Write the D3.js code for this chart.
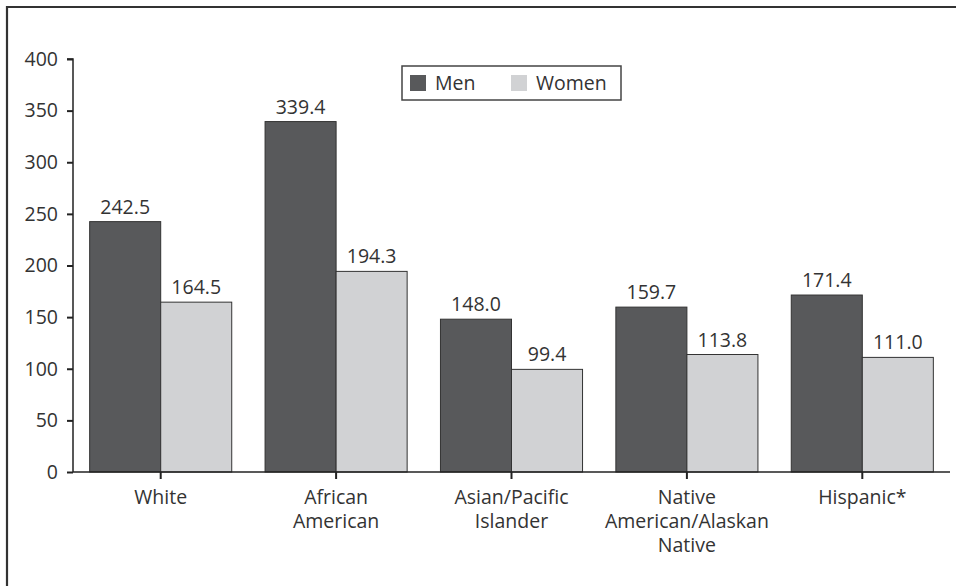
<!DOCTYPE html>
<html>
<head>
<meta charset="utf-8">
<script src="https://d3js.org/d3.v7.min.js"></script>
<style>
  body { margin: 0; background: #fff; }
  text { font-family: "Open Sans", "Noto Sans", sans-serif; font-weight: 400; fill: #333; }
</style>
</head>
<body>
<script>
// data
var categories = [["White"], ["African", "American"], ["Asian/Pacific", "Islander"],
                  ["Native", "American/Alaskan", "Native"], ["Hispanic*"]];
var seriesNames = ["Men", "Women"];
var men = [242.5, 339.4, 148.0, 159.7, 171.4];
var women = [164.5, 194.3, 99.4, 113.8, 111.0];
var yTicks = [0, 50, 100, 150, 200, 250, 300, 350, 400];

var width = 956, height = 586;
var colors = {Men: "#58595b", Women: "#d1d2d4"};
var fontSize = "19.5px";

var svg = d3.select("body").append("svg")
  .attr("width", width)
  .attr("height", height);

// outer frame (only top and left visible)
svg.append("path")
  .attr("d", "M7,590 L7,7 L960,7")
  .attr("fill", "none")
  .attr("stroke", "#333")
  .attr("stroke-width", 2.2);

var keys = categories.map(function(c) { return c.join(" "); });

var x0 = d3.scaleBand()
  .domain(keys)
  .range([73, 950])
  .paddingInner(0.19)
  .paddingOuter(0.095);

var x1 = d3.scaleBand()
  .domain(seriesNames)
  .range([0, x0.bandwidth()]);

var y = d3.scaleLinear()
  .domain([0, 400])
  .range([472, 59]);

var rows = keys.map(function(k, i) {
  return {key: k, values: [{s: "Men", v: men[i]}, {s: "Women", v: women[i]}]};
});

// bars
var groups = svg.selectAll("g.grp")
  .data(rows)
  .enter().append("g")
  .attr("class", "grp")
  .attr("transform", function(d) { return "translate(" + x0(d.key) + ",0)"; });

groups.selectAll("rect")
  .data(function(d) { return d.values; })
  .enter().append("rect")
  .attr("x", function(d) { return x1(d.s); })
  .attr("y", function(d) { return y(d.v); })
  .attr("width", x1.bandwidth())
  .attr("height", function(d) { return y(0) - y(d.v); })
  .attr("fill", function(d) { return colors[d.s]; })
  .attr("stroke", "#333")
  .attr("stroke-width", 1);

// value labels
groups.selectAll("text.val")
  .data(function(d) { return d.values; })
  .enter().append("text")
  .attr("class", "val")
  .attr("x", function(d) { return x1(d.s) + x1.bandwidth() / 2; })
  .attr("y", function(d) { return y(d.v) - 8; })
  .attr("text-anchor", "middle")
  .style("font-size", fontSize)
  .text(function(d) { return d.v.toFixed(1); });

// y axis
var yAxis = svg.append("g")
  .attr("transform", "translate(73,0)")
  .call(d3.axisLeft(y).tickValues(yTicks).tickSize(6).tickPadding(9));
yAxis.select(".domain").attr("stroke", "#222").attr("stroke-width", 1.5)
  .attr("d", "M-6," + y(400) + "H0V" + y(0));
yAxis.selectAll(".tick line").attr("stroke", "#222").attr("stroke-width", 2);
yAxis.selectAll(".tick text").style("font-size", fontSize).style("font-family", null).attr("fill", null);

// x axis
var xAxis = svg.append("g")
  .attr("transform", "translate(0," + y(0) + ")")
  .call(d3.axisBottom(x0).tickSize(7).tickFormat(""));
xAxis.select(".domain").attr("stroke", "#222").attr("stroke-width", 1.5)
  .attr("d", "M73,0H950");
xAxis.selectAll(".tick line").attr("stroke", "#222").attr("stroke-width", 2);

// category labels (multi-line)
var catLabels = svg.selectAll("text.cat")
  .data(categories)
  .enter().append("text")
  .attr("class", "cat")
  .attr("text-anchor", "middle")
  .style("font-size", fontSize)
  .attr("transform", function(d) { return "translate(" + (x0(d.join(" ")) + x0.bandwidth() / 2) + ",504)"; });

catLabels.selectAll("tspan")
  .data(function(d) { return d; })
  .enter().append("tspan")
  .attr("x", 0)
  .attr("dy", function(d, i) { return i === 0 ? 0 : 24; })
  .text(function(d) { return d; });

// legend
var legend = svg.append("g").attr("transform", "translate(402,66)");
legend.append("rect")
  .attr("width", 219).attr("height", 34)
  .attr("fill", "#fff").attr("stroke", "#444").attr("stroke-width", 1.5);

var legendX = d3.scaleOrdinal().domain(seriesNames).range([8, 109]);
var li = legend.selectAll("g.item")
  .data(seriesNames)
  .enter().append("g")
  .attr("class", "item")
  .attr("transform", function(d) { return "translate(" + legendX(d) + ",9)"; });
li.append("rect")
  .attr("width", 16).attr("height", 16)
  .attr("fill", function(d) { return colors[d]; });
li.append("text")
  .attr("x", 25).attr("y", 15)
  .style("font-size", fontSize)
  .text(function(d) { return d; });
</script>
</body>
</html>
